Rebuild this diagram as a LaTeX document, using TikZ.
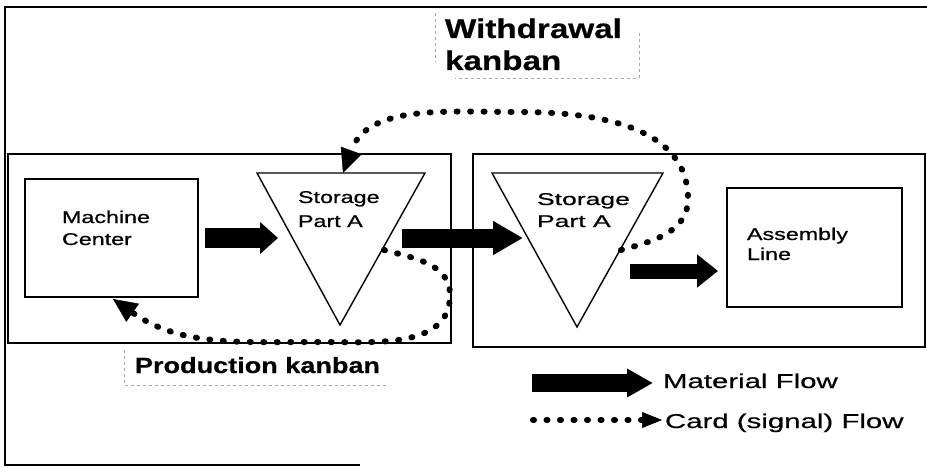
\documentclass[tikz,border=0pt]{standalone}
\usepackage{fontspec}
\setmainfont{Liberation Sans}
\newfontfamily\regf[FakeStretch=1.37,FakeBold=0.8]{Liberation Sans}
\newfontfamily\regwide[FakeStretch=1.56,FakeBold=0.8]{Liberation Sans}
\newfontfamily\legf[FakeStretch=1.47,FakeBold=0.6]{Liberation Sans}
\newfontfamily\boldf[FakeStretch=1.23,FakeBold=0.6]{Liberation Sans}
\usetikzlibrary{arrows.meta}
\tikzset{
  cell/.style={draw, line width=2.2pt, inner sep=0pt},
  unitbox/.style={draw, line width=2pt, inner sep=0pt},
  tri/.style={draw, line width=1.4pt, line join=miter},
  lbl/.style={anchor=base west, inner sep=0pt, outer sep=0pt},
  fat/.style={line width=#1},
  cardline/.style={line width=6pt, line cap=round, dash pattern=on 1pt off 12.5pt},
  faint/.style={draw=black!35, line width=0.8pt, dash pattern=on 3pt off 3pt},
  frame/.style={line width=1.6pt}
}
\begin{document}
\begin{tikzpicture}[x=1pt,y=1pt]
\useasboundingbox (0,0) rectangle (927,467);
% outer frame
\draw[frame] (927,460) -- (5,460) -- (5,2) -- (360,2);
% cells
\node[cell, minimum width=443pt, minimum height=189pt] (lcell) at (229.5,218.5) {};
\node[cell, minimum width=452pt, minimum height=193pt] (rcell) at (699,216.5) {};
% machine center
\node[unitbox, minimum width=173pt, minimum height=118pt] (mc) at (111.5,229) {};
\node[lbl, font=\regf\fontsize{17}{20}\selectfont] (mc1) at (62,244) {Machine};
\node[lbl, font=\regf\fontsize{17}{20}\selectfont] (mc2) at (62,222) {Center};
% assembly line
\node[unitbox, minimum width=175pt, minimum height=119pt] (al) at (814.5,219.5) {};
\node[lbl, font=\regf\fontsize{17}{20}\selectfont] (al1) at (747,227) {Assembly};
\node[lbl, font=\regf\fontsize{17}{20}\selectfont] (al2) at (747,207) {Line};
% storage triangles
\coordinate (t1a) at (257,294); \coordinate (t1b) at (425,294); \coordinate (t1c) at (340,142);
\draw[tri] (t1a) -- (t1b) -- (t1c) -- cycle;
\node[lbl, font=\regf\fontsize{17}{20}\selectfont] (s1a) at (298,264) {Storage};
\node[lbl, font=\regf\fontsize{17}{20}\selectfont] (s1b) at (298,240) {Part A};
\coordinate (t2a) at (492,294); \coordinate (t2b) at (663,294); \coordinate (t2c) at (577,140);
\draw[tri] (t2a) -- (t2b) -- (t2c) -- cycle;
\node[lbl, font=\regwide\fontsize{17}{20}\selectfont] (s2a) at (537,262) {Storage};
\node[lbl, font=\regwide\fontsize{17}{20}\selectfont] (s2b) at (537,240) {Part A};
% material flow arrows
\coordinate (m1s) at (205,229); \coordinate (m1e) at (278,229);
\draw[fat=20pt, -{Triangle[length=18pt,width=31pt]}] (m1s) -- (m1e);
\coordinate (m2s) at (402,229); \coordinate (m2e) at (523,229);
\draw[fat=19pt, -{Triangle[length=30pt,width=32pt]}] (m2s) -- (m2e);
\coordinate (m3s) at (630,196); \coordinate (m3e) at (718,196);
\draw[fat=15pt, -{Triangle[length=21pt,width=32pt]}] (m3s) -- (m3e);
% card flows
\coordinate (ws) at (621,217); \coordinate (wt) at (343,294);
\draw[cardline, -{Triangle[length=24pt,width=22pt,line width=0.5pt]}]
  (ws) to[out=15,in=-90] (688,268) to[out=90,in=0] (520,355) to[out=180,in=70] (wt);
\coordinate (ps) at (384,217); \coordinate (pt) at (113,168);
\draw[cardline, -{Triangle[length=24pt,width=22pt,line width=0.5pt]}]
  (ps) to[out=-15,in=90] (450,172) to[out=-90,in=0] (320,125) to[out=180,in=-35] (pt);
% kanban labels
\node[lbl, font=\boldf\bfseries\fontsize{27}{30}\selectfont] (wk1) at (445,429) {Withdrawal};
\node[lbl, font=\boldf\bfseries\fontsize{27}{30}\selectfont] (wk2) at (445,397) {kanban};
\draw[faint] (435,454) -- (435,405);
\draw[faint] (639,434) -- (639,389) -- (455,389);
\node[lbl, font=\boldf\bfseries\fontsize{22}{26}\selectfont] (pk) at (135,94) {Production kanban};
\draw[faint] (124,117) -- (124,82) -- (387,82);
% legend
\coordinate (lm1) at (532,84); \coordinate (lm2) at (653,84);
\draw[fat=18pt, -{Triangle[length=26pt,width=27pt]}] (lm1) -- (lm2);
\node[lbl, font=\legf\fontsize{20}{24}\selectfont] (lmt) at (663,79) {Material Flow};
\coordinate (lc1) at (533,47); \coordinate (lc2) at (662,47);
\draw[cardline, -{Triangle[length=20pt,width=16pt,line width=0.5pt]}] (lc1) -- (lc2);
\node[lbl, font=\legf\fontsize{20}{24}\selectfont] (lct) at (665,39) {Card (signal) Flow};
\end{tikzpicture}
\end{document}
